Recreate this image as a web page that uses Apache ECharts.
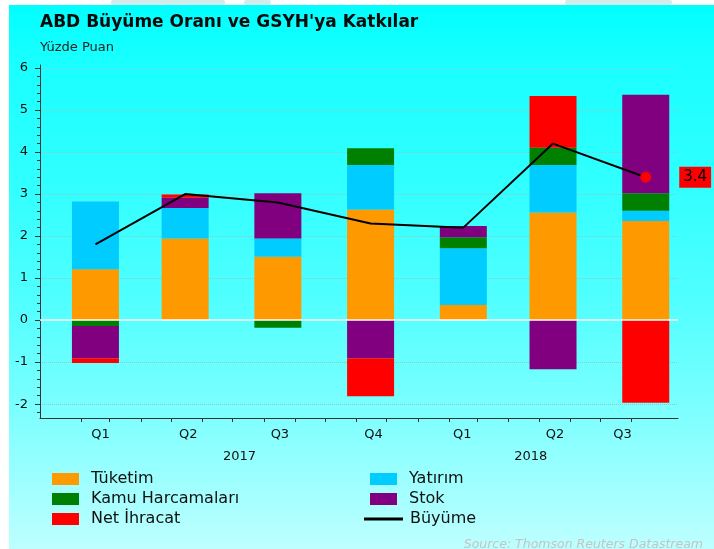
<!DOCTYPE html>
<html><head><meta charset="utf-8">
<script src="https://cdn.jsdelivr.net/npm/echarts@6/dist/echarts.min.js"></script>
<style>html,body{margin:0;padding:0;background:#fff}#c{width:714px;height:549px}</style>
</head><body><div id="c"></div>
<script>
// ---- data ----
const quarters   = ['Q1','Q2','Q3','Q4','Q1','Q2','Q3'];
const barDates   = ['2017-02-15','2017-05-15','2017-08-15','2017-11-15','2018-02-15','2018-05-15','2018-08-15'];
const qLabelDates= ['2017-02-20','2017-05-18','2017-08-17','2017-11-18','2018-02-14','2018-05-17','2018-07-23'];
const years      = ['2017','2018'];
const yearDates  = ['2017-07-08','2018-04-23'];
const monthTicks = ['2017-02-01','2017-03-01','2017-04-01','2017-05-01','2017-06-01','2017-07-01','2017-08-01','2017-09-01','2017-10-01','2017-11-01','2017-12-01','2018-01-01','2018-02-01','2018-03-01','2018-04-01','2018-05-01','2018-06-01','2018-07-01','2018-08-01'];
const yTicks     = [-2,-1,0,1,2,3,4,5,6];

const tuketim = [1.21, 1.94, 1.51, 2.63, 0.36, 2.56, 2.36];
const yatirim = [1.61, 0.73, 0.43, 1.06, 1.35, 1.13, 0.24];
const kamu    = [-0.14, 0.00, -0.18, 0.40, 0.26, 0.41, 0.42];
const stok    = [-0.77, 0.24, 1.08, -0.91, 0.27, -1.17, 2.34];
const netIhr  = [-0.11, 0.08, 0.00, -0.90, 0.00, 1.23, -1.97];
const buyume  = [1.8, 3.0, 2.8, 2.3, 2.2, 4.2, 3.4];

// ---- helpers ----
const DAY = 86400000;
function dn(s){const p=s.split('-').map(Number);return Date.UTC(p[0],p[1]-1,p[2])/DAY;} // day number
const xMin = dn('2016-12-22'), xMax = dn('2018-09-16');
const qTs = qLabelDates.map(dn), yTs = yearDates.map(dn);
function nearestIdx(arr, v){let b=0;for(let i=1;i<arr.length;i++){if(Math.abs(arr[i]-v)<Math.abs(arr[b]-v))b=i;}return b;}
const minorTicks=[];
for(let i=0;i<yTicks.length;i++){for(let k=1;k<5;k++){const v=+(yTicks[i]-k*0.2).toFixed(2); if(v>-2.33) minorTicks.push(v);}}

const FONT='DejaVu Sans';
const colors = {t:'#FF9900', y:'#00CCFF', k:'#008000', s:'#800080', n:'#FF0000'};
// data rows are [value, day] so that the stacked dimension is the value
function barSeries(name, vals, color, extra){
  return Object.assign({
    name, type:'bar', stack:'total', barWidth:47,
    encode:{x:1, y:0},
    itemStyle:{color},
    data: barDates.map((d,i)=>[vals[i], dn(d)])
  }, extra||{});
}

const lineData = barDates.map((d,i)=>{
  const p=[buyume[i], dn(d)];
  if(i===buyume.length-1){
    return {value:p, symbol:'circle', symbolSize:11, itemStyle:{color:'#FF0000'},
      label:{show:true, position:'right', distance:28, formatter:(o)=>o.value[0].toFixed(1),
        backgroundColor:'#FF0000', color:'#000', fontSize:15, fontFamily:FONT, padding:[3,4,3,4]}};
  }
  return p;
});

const chart = echarts.init(document.getElementById('c'), null, {renderer:'canvas'});
const legendText = {fontSize:16, fontFamily:FONT, color:'#111', padding:[0,0,0,7]};
const bgFill = new echarts.graphic.LinearGradient(0,0,0,1,[
  {offset:0,color:'#00FFFF'},{offset:0.10,color:'#18FFFF'},{offset:0.32,color:'#30FFFF'},
  {offset:0.54,color:'#50FFFF'},{offset:0.76,color:'#80FFFF'},{offset:1,color:'#BEFFFF'}]);
chart.setOption({
  animation:false,
  textStyle:{fontFamily:FONT},
  graphic:[
    {type:'rect', silent:true, z:-100, shape:{x:9,y:5,width:705,height:544}, style:{fill:bgFill}},
    {type:'rect', silent:true, z:-100, shape:{x:111,y:0,width:114,height:5,r:2}, style:{fill:'#D2ECEC'}},
    {type:'rect', silent:true, z:-100, shape:{x:244,y:0,width:27,height:5,r:2}, style:{fill:'#D2ECEC'}},
    {type:'rect', silent:true, z:-100, shape:{x:565,y:0,width:107,height:5,r:2}, style:{fill:'#D2ECEC'}}
  ],
  title:[
    {text:"ABD Büyüme Oranı ve GSYH'ya Katkılar", left:35, top:9, textStyle:{fontSize:17, fontWeight:'bold', color:'#0A0A0A', fontFamily:FONT}},
    {text:'Yüzde Puan', left:35, top:36, textStyle:{fontSize:13, fontWeight:'normal', color:'#222', fontFamily:FONT}},
    {text:'Source: Thomson Reuters Datastream', right:6, top:533, textStyle:{fontSize:12.5, fontWeight:'normal', fontStyle:'italic', color:'#C4C4C4', fontFamily:FONT}}
  ],
  legend:[
    {data:['Tüketim','Kamu Harcamaları','Net İhracat'], orient:'vertical', left:47, top:466, itemWidth:27, itemHeight:12, itemGap:4, icon:'rect', textStyle:legendText},
    {data:['Yatırım','Stok'], orient:'vertical', left:365, top:466, itemWidth:27, itemHeight:12, itemGap:4, icon:'rect', textStyle:legendText},
    {data:['Büyüme'], orient:'vertical', left:359, top:506, itemWidth:39, itemHeight:3, icon:'rect', textStyle:Object.assign({},legendText,{padding:[0,0,0,2]})}
  ],
  grid:{left:40, right:36, top:65, bottom:131, containLabel:false},
  xAxis:[
    {type:'value', min:xMin, max:xMax, position:'bottom',
      axisLine:{onZero:false, lineStyle:{color:'#333', width:1}},
      axisTick:{show:true, length:4, customValues:monthTicks.map(dn), lineStyle:{color:'#333'}},
      axisLabel:{customValues:qTs, margin:10, fontSize:13, color:'#111', fontFamily:FONT,
        formatter:(v)=>quarters[nearestIdx(qTs,v)]},
      splitLine:{show:false}},
    {type:'value', min:xMin, max:xMax, position:'bottom',
      axisLine:{show:false, onZero:false}, axisTick:{show:false},
      axisLabel:{customValues:yTs, margin:32, fontSize:13, color:'#111', fontFamily:FONT,
        formatter:(v)=>years[nearestIdx(yTs,v)]},
      splitLine:{show:false}}
  ],
  yAxis:[
    {type:'value', min:-2.33, max:6.07, position:'left',
      axisLine:{show:true, onZero:false, lineStyle:{color:'#333'}},
      axisTick:{show:true, length:5, customValues:yTicks, lineStyle:{color:'#333'}},
      axisLabel:{customValues:yTicks, margin:12, fontSize:13, color:'#111', fontFamily:FONT},
      splitLine:{show:true, lineStyle:{color:'#8CC8C8', type:'dotted', width:1}}},
    {type:'value', min:-2.33, max:6.07, position:'left',
      axisLine:{show:false, onZero:false},
      axisTick:{show:true, length:3, customValues:minorTicks, lineStyle:{color:'#333'}},
      axisLabel:{show:false}, splitLine:{show:false}}
  ],
  series:[
    barSeries('Tüketim', tuketim, colors.t, {markLine:{silent:true, symbol:['none','none'], label:{show:false},
      lineStyle:{color:'#FFFFFF', type:'solid', width:1.5}, data:[{yAxis:0}]}}),
    barSeries('Yatırım', yatirim, colors.y),
    barSeries('Kamu Harcamaları', kamu, colors.k),
    barSeries('Stok', stok, colors.s),
    barSeries('Net İhracat', netIhr, colors.n),
    {name:'Büyüme', type:'line', z:5, encode:{x:1, y:0}, data:lineData, symbol:'circle', symbolSize:0, showSymbol:true,
      itemStyle:{color:'#000'}, lineStyle:{color:'#000', width:2}}
  ]
});
</script></body></html>
